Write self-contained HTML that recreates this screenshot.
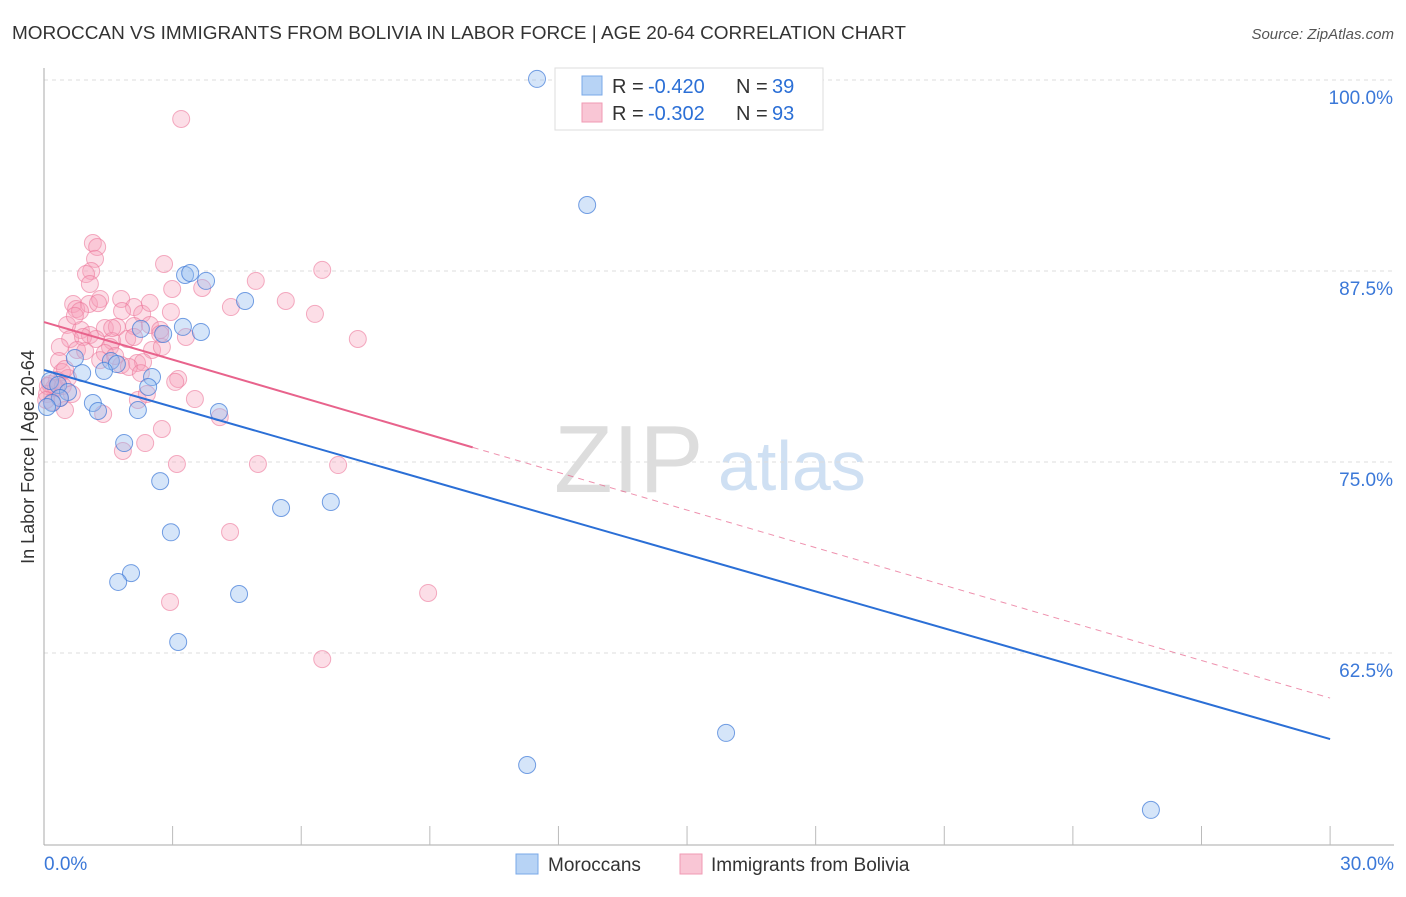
<!DOCTYPE html>
<html><head><meta charset="utf-8"><style>
body{margin:0;background:#fff;font-family:"Liberation Sans",sans-serif}
svg text{font-family:"Liberation Sans",sans-serif}
</style></head><body>
<svg id="chart" width="1406" height="892" xmlns="http://www.w3.org/2000/svg">
<text x="12" y="39" font-size="18" fill="#333" textLength="894" lengthAdjust="spacingAndGlyphs">MOROCCAN VS IMMIGRANTS FROM BOLIVIA IN LABOR FORCE | AGE 20-64 CORRELATION CHART</text>
<text x="1394" y="39" font-size="15" fill="#555" text-anchor="end" font-style="italic">Source: ZipAtlas.com</text>
<text x="34" y="457" font-size="18" fill="#333" text-anchor="middle" transform="rotate(-90 34 457)">In Labor Force | Age 20-64</text>
<text x="554" y="492" font-size="96" fill="#ddd" font-family="Liberation Serif">ZIP</text>
<text x="718" y="490" font-size="70" fill="#cfe0f3">atlas</text>
<g id="grid"></g><g id="pts"></g><g id="trend"></g>
<g>
<rect x="555" y="68" width="268" height="62" fill="#fff" stroke="#ddd"/>
<rect x="582" y="76" width="20" height="19" fill="#b7d3f5" stroke="#7aa8e8"/>
<text x="612" y="93" font-size="20" fill="#333">R =</text>
<text x="648" y="93" font-size="20" fill="#2b6fd6">-0.420</text>
<text x="736" y="93" font-size="20" fill="#333">N =</text>
<text x="772" y="93" font-size="20" fill="#2b6fd6">39</text>
<rect x="582" y="103" width="20" height="19" fill="#f9c6d5" stroke="#f09ab3"/>
<text x="612" y="120" font-size="20" fill="#333">R =</text>
<text x="648" y="120" font-size="20" fill="#2b6fd6">-0.302</text>
<text x="736" y="120" font-size="20" fill="#333">N =</text>
<text x="772" y="120" font-size="20" fill="#2b6fd6">93</text>
</g>
<g>
<rect x="516" y="854" width="22" height="20" fill="#b7d3f5" stroke="#7aa8e8"/>
<text x="548" y="871" font-size="19" fill="#333">Moroccans</text>
<rect x="680" y="854" width="22" height="20" fill="#f9c6d5" stroke="#f09ab3"/>
<text x="711" y="871" font-size="19" fill="#333">Immigrants from Bolivia</text>
</g>
</svg>
<script>
const yTicks=[100,87.5,75,62.5];
const yTickLabels=["100.0%","87.5%","75.0%","62.5%"];
const xEndLabels=["0.0%","30.0%"];
const blueX=[11.5,12.67,3.29,3.41,3.78,4.69,2.26,2.78,3.24,3.66,1.56,1.7,1.4,0.89,2.52,2.43,0.14,0.33,0.56,0.37,0.19,0.07,1.14,1.26,2.19,4.08,0.72,1.87,2.71,5.53,6.69,2.96,2.03,1.73,4.55,3.13,15.91,11.27,25.82];
const blueY=[100.07,91.82,87.24,87.37,86.85,85.54,83.71,83.38,83.84,83.51,81.61,81.41,80.96,80.82,80.56,79.91,80.3,80.04,79.58,79.19,78.86,78.6,78.86,78.34,78.4,78.27,81.81,76.24,73.75,71.99,72.38,70.4,67.73,67.15,66.36,63.22,57.27,55.17,52.23];
const pinkX=[3.2,1.14,1.24,1.19,1.1,0.98,2.8,6.49,4.94,2.99,3.69,5.64,4.36,6.32,0.68,0.75,1.05,1.31,1.26,0.84,1.8,2.1,1.82,2.29,2.96,0.54,0.86,1.07,1.42,1.7,2.1,2.47,2.71,3.31,7.32,0.61,0.91,1.21,1.59,1.94,1.54,2.1,2.52,0.37,0.77,1.42,2.75,1.8,2.17,2.31,1.98,0.35,0.42,0.56,0.3,0.14,0.23,0.07,0.19,0.37,0.49,2.26,3.13,3.06,3.52,2.19,2.4,1.38,4.1,1.84,2.36,2.75,3.1,4.99,6.86,4.34,2.94,8.96,6.49,0.28,0.09,0.05,0.44,0.65,0.96,1.31,1.66,2.71,1.59,0.49,0.72,2.47,1.07];
const pinkY=[97.45,89.33,89.07,88.29,87.5,87.3,87.96,87.57,86.85,86.32,86.39,85.54,85.14,84.69,85.34,85.01,85.34,85.67,85.4,84.88,85.67,85.14,84.88,84.69,84.82,83.97,83.64,83.31,83.77,83.84,83.9,83.97,83.64,83.18,83.05,83.05,83.18,83.05,82.92,83.05,82.53,83.18,82.33,82.53,82.33,82.13,82.53,81.35,81.48,81.54,81.22,81.61,80.89,80.5,80.37,80.1,79.84,79.45,78.93,79.19,78.4,80.82,80.43,80.24,79.12,79.06,79.45,78.14,77.94,75.72,76.24,77.16,74.87,74.87,74.8,70.42,65.84,66.43,62.1,79.84,79.97,79.06,79.97,79.45,82.26,81.67,81.94,83.38,83.77,81.09,84.56,85.41,86.65];
const blueTrend=[81.02,56.87];
const pinkTrend=[84.16,59.55];
const pinkSolidEnd=10.0;
const NS="http://www.w3.org/2000/svg";
const X=v=>44+v*42.87, Y=v=>80+(100-v)*15.28;
function mk(t,a,p){const e=document.createElementNS(NS,t);for(const k in a)e.setAttribute(k,a[k]);p.appendChild(e);return e;}
const grid=document.getElementById('grid');
yTicks.forEach((t,i)=>{
 const l=mk('line',{x1:44,x2:1394,y1:Y(t),y2:Y(t),stroke:'#ddd','stroke-dasharray':'4 4'},grid);
 
 
 const tx=mk('text',{x:1393,y:Y(t)+24,'font-size':19,fill:'#3b78d8','text-anchor':'end'},grid);
 tx.textContent=yTickLabels[i];
 
 
});
const ax=mk('line',{x1:44,x2:44,y1:68,y2:845,stroke:'#aaa'},grid);


const bx=mk('line',{x1:44,x2:1394,y1:845,y2:845,stroke:'#aaa'},grid);


for(let i=1;i<=10;i++){const t=mk('line',{x1:X(i*3),x2:X(i*3),y1:826,y2:845,stroke:'#bbb'},grid);
 
 }
[[0,'start',44],[30,'end',1394]].forEach((d,i)=>{const t=mk('text',{x:d[2],y:870,'font-size':19,fill:'#3b78d8','text-anchor':d[1]},grid);t.textContent=xEndLabels[i];
 
 });
const pts=document.getElementById('pts');
pinkX.forEach((x,i)=>{const c=mk('circle',{cx:X(x),cy:Y(pinkY[i]),r:8.5,fill:'rgba(246,160,185,0.35)',stroke:'rgba(236,120,155,0.6)'},pts);
 
 });
blueX.forEach((x,i)=>{const c=mk('circle',{cx:X(x),cy:Y(blueY[i]),r:8.5,fill:'rgba(150,190,240,0.4)',stroke:'rgba(60,120,215,0.7)'},pts);
 
 });
const tr=document.getElementById('trend');
const pv=x=>pinkTrend[0]+(pinkTrend[1]-pinkTrend[0])*x/30;
let l1=mk('line',{x1:X(0),y1:Y(blueTrend[0]),x2:X(30),y2:Y(blueTrend[1]),stroke:'#2b6fd6','stroke-width':2},tr);


let l2=mk('line',{x1:X(0),y1:Y(pv(0)),x2:X(pinkSolidEnd),y2:Y(pv(pinkSolidEnd)),stroke:'#e8638c','stroke-width':2},tr);


let l3=mk('line',{x1:X(pinkSolidEnd),y1:Y(pv(pinkSolidEnd)),x2:X(30),y2:Y(pv(30)),stroke:'#e8638c','stroke-width':1,'stroke-dasharray':'6 5',opacity:0.7},tr);


</script>
</body></html>
